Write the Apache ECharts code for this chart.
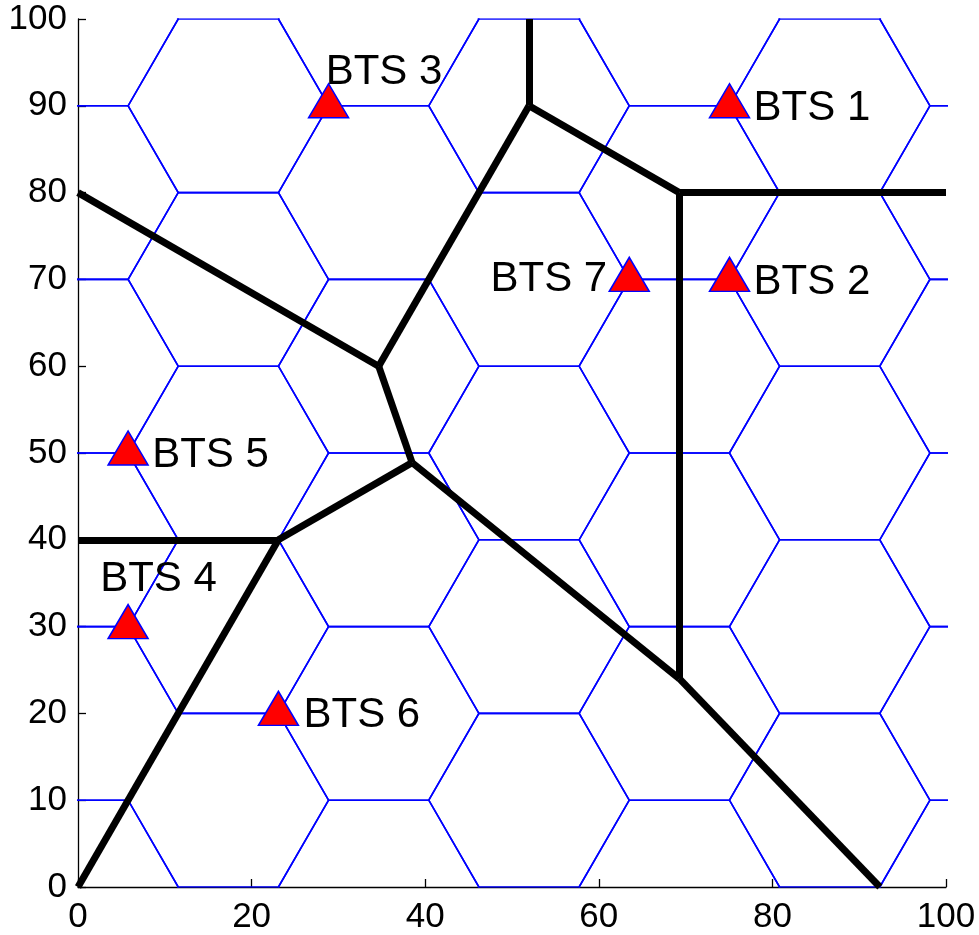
<!DOCTYPE html>
<html>
<head>
<meta charset="utf-8">
<title>BTS coverage</title>
<script src="https://cdn.jsdelivr.net/npm/echarts@6/dist/echarts.min.js"></script>
<style>
  html, body { margin: 0; padding: 0; background: #ffffff; }
  #chart { width: 979px; height: 935px; }
</style>
</head>
<body>
<div id="chart"></div>
<script>
// Base station sites
var siteNames = ['BTS 1', 'BTS 2', 'BTS 3', 'BTS 4', 'BTS 5', 'BTS 6', 'BTS 7'];
var siteX = [75.06, 75.06, 28.87, 5.77, 5.77, 23.09, 63.51];
var siteY = [90, 70, 90, 30, 50, 20, 70];

// Boundaries between the serving areas (each entry: start point, end point)
var boundaryStart = [
  [51.96, 100], [51.96, 90], [69.28, 80], [69.28, 80], [51.96, 90], [0, 80],
  [34.64, 60], [38.49, 48.89], [0, 40], [23.09, 40], [38.49, 48.89], [69.28, 24]
];
var boundaryEnd = [
  [51.96, 90], [69.28, 80], [100, 80], [69.28, 24], [34.64, 60], [34.64, 60],
  [38.49, 48.89], [23.09, 40], [23.09, 40], [0, 0], [69.28, 24], [92.38, 0]
];

// Hexagonal cell lattice: cell centre columns and rows
var hexColumnX = [0, 17.32, 34.64, 51.96, 69.28, 86.6, 103.92];
var hexRowsEvenCol = [0, 20, 40, 60, 80, 100];
var hexRowsOddCol = [10, 30, 50, 70, 90];
var hexCellHeight = 20;

// Axis ticks
var xTicks = [0, 20, 40, 60, 80, 100];
var yTicks = [0, 10, 20, 30, 40, 50, 60, 70, 80, 90, 100];

// ---- build geometry ----
var hexSide = hexCellHeight / Math.sqrt(3);
var hexOutlines = [];
hexColumnX.forEach(function (cx, i) {
  var rows = (i % 2 === 0) ? hexRowsEvenCol : hexRowsOddCol;
  rows.forEach(function (cy) {
    var h = hexCellHeight / 2;
    hexOutlines.push({
      coords: [
        [cx - hexSide, cy], [cx - hexSide / 2, cy + h], [cx + hexSide / 2, cy + h],
        [cx + hexSide, cy], [cx + hexSide / 2, cy - h], [cx - hexSide / 2, cy - h],
        [cx - hexSide, cy]
      ]
    });
  });
});

var boundarySegments = boundaryStart.map(function (p, i) {
  return { coords: [p, boundaryEnd[i]] };
});

var sitePoints = siteX.map(function (x, i) { return [x, siteY[i], siteNames[i]]; });

// Label placement next to each marker (pixel offsets from the site)
var labelStyle = [
  { side: 'right', offset: [24, 2.5] },
  { side: 'right', offset: [24, 3] },
  { side: 'right', offset: [-3, -33.5] },
  { side: 'right', offset: [-28, -47] },
  { side: 'right', offset: [24, 2.5] },
  { side: 'right', offset: [25, 2.5] },
  { side: 'left', offset: [-22, 0] }
];

var FONT = "'Liberation Sans', Arial, Helvetica, sans-serif";

var labelPoints = sitePoints.map(function (p, i) {
  var s = labelStyle[i];
  return {
    value: p,
    label: {
      show: true,
      position: s.side,
      distance: 0,
      color: '#000000',
      opacity: 1,
      textBorderWidth: 0,
      fontSize: 42,
      fontFamily: FONT,
      align: s.side === 'right' ? 'left' : 'right',
      verticalAlign: 'middle',
      offset: s.offset,
      formatter: p[2]
    }
  };
});

var chart = echarts.init(document.getElementById('chart'), null, { renderer: 'canvas' });
chart.setOption({
  animation: false,
  backgroundColor: '#ffffff',
  grid: { left: 78, right: 33, top: 19, bottom: 47, containLabel: false },
  xAxis: {
    type: 'value', min: xTicks[0], max: xTicks[xTicks.length - 1], interval: 20,
    axisLine: { show: true, lineStyle: { color: '#000', width: 1.3 } },
    axisTick: { show: true, inside: true, length: 8, lineStyle: { color: '#000', width: 1.3 } },
    axisLabel: { color: '#000', fontSize: 35, fontFamily: FONT, margin: 13 },
    splitLine: { show: false }
  },
  yAxis: {
    type: 'value', min: yTicks[0], max: yTicks[yTicks.length - 1], interval: 10,
    axisLine: { show: true, lineStyle: { color: '#000', width: 1.3 } },
    axisTick: { show: true, inside: true, length: 8, lineStyle: { color: '#000', width: 1.3 } },
    axisLabel: { color: '#000', fontSize: 35, fontFamily: FONT, margin: 11 },
    splitLine: { show: false }
  },
  series: [
    {
      name: 'cells', type: 'lines', coordinateSystem: 'cartesian2d', polyline: true,
      clip: true, silent: true, z: 1,
      lineStyle: { color: '#0000ff', width: 1.6, opacity: 1 },
      data: hexOutlines
    },
    {
      name: 'boundaries', type: 'lines', coordinateSystem: 'cartesian2d',
      clip: true, silent: true, z: 2,
      lineStyle: { color: '#000000', width: 7, opacity: 1, cap: 'butt' },
      data: boundarySegments
    },
    {
      name: 'sites', type: 'scatter', z: 3,
      symbol: 'triangle', symbolSize: [40, 34], symbolOffset: [0, -5],
      itemStyle: { color: '#ff0000', borderColor: '#0000ff', borderWidth: 1.5, opacity: 1 },
      data: sitePoints
    },
    {
      name: 'siteLabels', type: 'scatter', z: 4, symbolSize: 0.1,
      itemStyle: { color: 'rgba(0,0,0,0)' },
      data: labelPoints
    }
  ]
});
</script>
</body>
</html>
